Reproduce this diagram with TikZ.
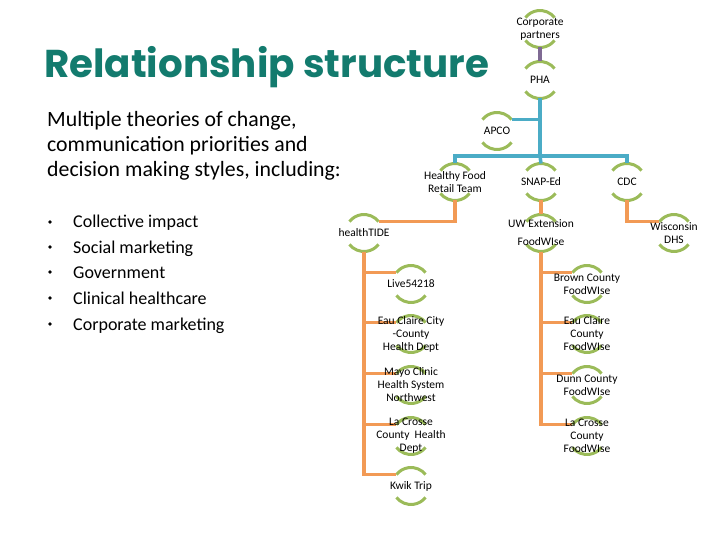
\documentclass[tikz,border=0pt]{standalone}
\usepackage{fontspec}
\setmainfont{Carlito}
\newfontfamily\titlefont{Poppins}
\pgfdeclarelayer{bg}
\pgfsetlayers{bg,main}
\definecolor{arcgreen}{HTML}{9BBB59}
\definecolor{lorange}{HTML}{F29A55}
\definecolor{lblue}{HTML}{4BACC6}
\definecolor{lpurple}{HTML}{7F6A93}
\definecolor{titleteal}{HTML}{137B6E}
\tikzset{
  org/.style={align=center, inner sep=0pt, font=\fontsize{11.5}{13}\selectfont},
  ringarc/.style={draw=arcgreen, line width=3pt},
  bluelink/.style={draw=lblue, line width=3.5pt},
  orlink/.style={draw=lorange, line width=3.5pt},
  purlink/.style={draw=lpurple, line width=3.5pt},
  para/.style={anchor=base west, inner sep=0pt, font=\fontsize{21.8}{26}\selectfont},
  bul/.style={anchor=base west, inner sep=0pt, font=\fontsize{18}{22}\selectfont},
  buldot/.style={circle, fill=black, inner sep=0pt, minimum size=3.6pt},
}
\begin{document}
\begin{tikzpicture}[x=1pt,y=1pt]
\useasboundingbox (0,0) rectangle (720,-540);
% title and text
\node[anchor=base west, inner sep=0pt, text=titleteal, font=\titlefont\bfseries\fontsize{38.8}{42}\selectfont] (title) at (44,-78) {Relationship structure};
\node[para] (p1) at (47,-127) {Multiple theories of change,};
\node[para] (p2) at (47,-152) {communication priorities and};
\node[para] (p3) at (47,-177) {decision making styles, including:};
\foreach \i/\yy/\t in {1/228/Collective impact,2/253/Social marketing,3/278/Government,4/304/Clinical healthcare,5/330/Corporate marketing}{
  \node[buldot] (d\i) at (50,-\yy+6) {};
  \node[bul] (b\i) at (73,-\yy) {\t};
}
% org nodes
\node[org] (cp) at (540,-29) {Corporate\\partners};
\node[org] (pha) at (540,-80) {PHA};
\node[org] (apco) at (497,-131) {APCO};
\node[org] (hfrt) at (455,-182) {Healthy Food\\Retail Team};
\node[org] (snap) at (541,-182) {SNAP-Ed};
\node[org] (cdc) at (627,-182) {CDC};
\node[org] (tide) at (364,-233) {healthTIDE};
\node[org] (uwx) at (541,-233) {UW Extension\\[5pt]FoodWIse};
\node[org] (dhs) at (674,-233) {Wisconsin\\DHS};
\node[org] (live) at (411,-284) {Live54218};
\node[org] (ecc) at (411,-334) {Eau Claire City\\-County\\Health Dept};
\node[org] (mayo) at (411,-385) {Mayo Clinic\\Health System\\Northwest};
\node[org] (lcc) at (411,-436) {La Crosse\\County~ Health\\Dept};
\node[org] (kwik) at (411,-486) {Kwik Trip};
\node[org] (brown) at (587,-284) {Brown County\\FoodWIse};
\node[org] (ecf) at (587,-334) {Eau Claire\\County\\FoodWIse};
\node[org] (dunn) at (587,-385) {Dunn County\\FoodWIse};
\node[org] (lcf) at (587,-436) {La Crosse\\County\\FoodWIse};
\coordinate (hub) at (540,-156);
% arcs
\begin{pgfonlayer}{bg}
\foreach \n in {cp,pha,apco,hfrt,snap,cdc,tide,uwx,dhs,live,ecc,mayo,lcc,kwik,brown,ecf,dunn,lcf}{
  \draw[ringarc] ([shift={(38:18.5pt)}]\n.center) arc[start angle=38,end angle=142,radius=18.5pt];
  \draw[ringarc] ([shift={(218:18.5pt)}]\n.center) arc[start angle=218,end angle=322,radius=18.5pt];
}
% connectors
\draw[purlink] ([yshift=-18.5pt]cp.center) -- ([yshift=18.5pt]pha.center);
\draw[bluelink] ([yshift=-18.5pt]pha.center) -- (hub);
\draw[bluelink] ([shift={(38:18.5pt)}]apco.center) -| ([yshift=-18.5pt]pha.center);
\draw[bluelink] ([yshift=18.5pt]hfrt.center) |- (hub) -| ([yshift=18.5pt]cdc.center);
\draw[bluelink] (hub) -- ([yshift=18.5pt]snap.center);
\draw[orlink] ([yshift=-18.5pt]hfrt.center) |- ([shift={(38:18.5pt)}]tide.center);
\draw[orlink] ([yshift=-18.5pt]snap.center) -- ([yshift=18.5pt]uwx.center);
\draw[orlink] ([yshift=-18.5pt]cdc.center) |- ([shift={(142:18.5pt)}]dhs.center);
\foreach \k in {live,ecc,mayo,lcc,kwik}{
  \draw[orlink] ([yshift=-18.5pt]tide.center) |- ([shift={(142:18.5pt)}]\k.center);
}
\foreach \k in {brown,ecf,dunn,lcf}{
  \draw[orlink] ([yshift=-18.5pt]uwx.center) |- ([shift={(142:18.5pt)}]\k.center);
}
\end{pgfonlayer}
\end{tikzpicture}
\end{document}
